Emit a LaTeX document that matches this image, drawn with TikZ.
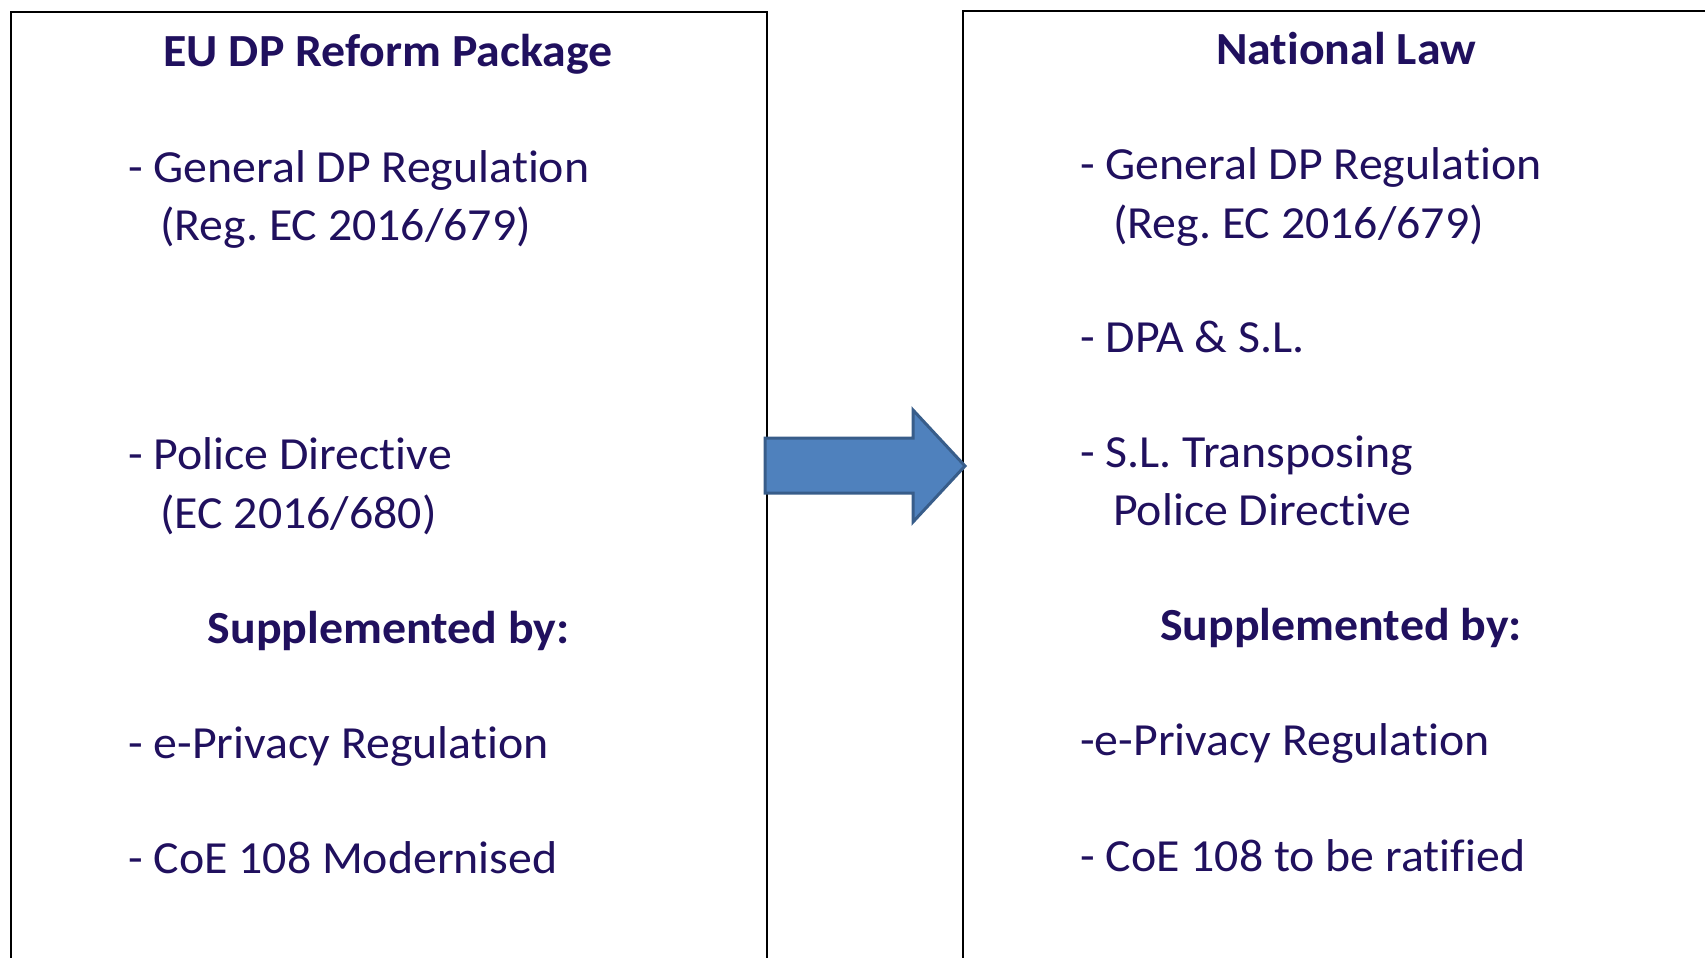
\documentclass[tikz,border=0pt]{standalone}
\usepackage{fontspec}
\setmainfont{Carlito}[FakeStretch=1.04, Ligatures=NoCommon]
\frenchspacing
\definecolor{txt}{HTML}{20105E}
\definecolor{arrfill}{HTML}{4F81BD}
\definecolor{arrline}{HTML}{385D8A}
\tikzset{
  body/.style={anchor=base west, inner sep=0pt, text=txt, font=\fontsize{46}{55}\selectfont},
  head/.style={anchor=base, inner sep=0pt, text=txt, font=\fontsize{46}{55}\selectfont\bfseries},
  frame/.style={draw=black},
  bigarrow/.style={fill=arrfill, draw=arrline, line width=3pt, line join=miter}
}
\begin{document}
\begin{tikzpicture}[x=1pt,y=-1pt]
\useasboundingbox (0,0) rectangle (1705,958);
\begin{scope}
\clip (0,0) rectangle (1705,958);
\draw[frame, line width=2.4pt] (11,12) rectangle (767,990);
\draw[frame, line width=1.6pt] (963,11) rectangle (1760,990);
\end{scope}
% left box
\node[head] (lt) at (388,66.7) {EU DP Reform Package};
\node[body] (l1) at (128,182.7) {- General DP Regulation};
\node[body] (l1b) at (160,240.5) {(Reg. EC 2016/679)};
\node[body] (l2) at (128,469.3) {- Police Directive};
\node[body] (l2b) at (160,528.7) {(EC 2016/680)};
\node[head] (ls) at (388.5,643.3) {Supplemented by:};
\node[body] (l3) at (128,758.3) {- e-Privacy Regulation};
\node[body] (l4) at (128,873.3) {- CoE 108 Modernised};
% right box
\node[head] (rt) at (1346,64) {National Law};
\node[body] (r1) at (1080,179.3) {- General DP Regulation};
\node[body] (r1b) at (1113,238) {(Reg. EC 2016/679)};
\node[body] (r2) at (1080,352.5) {- DPA \& S.L.};
\node[body] (r3) at (1080,467.5) {- S.L. Transposing};
\node[body] (r3b) at (1113,525.5) {Police Directive};
\node[head] (rs) at (1341,640) {Supplemented by:};
\node[body] (r4) at (1080,755) {-e-Privacy Regulation};
\node[body] (r5) at (1080,871) {- CoE 108 to be ratified};
% arrow
\draw[bigarrow] (765,438) -- (913,438) -- (913,410) -- (965,466) -- (913,522) -- (913,493) -- (765,493) -- cycle;
\end{tikzpicture}
\end{document}
